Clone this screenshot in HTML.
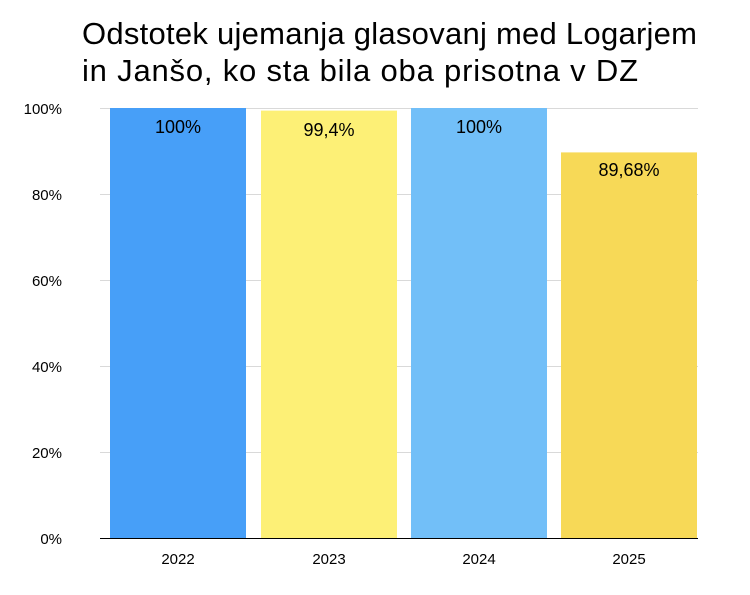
<!DOCTYPE html>
<html><head><meta charset="utf-8"><style>
body{margin:0;background:#fff;font-family:"Liberation Sans",Arial,sans-serif;}
</style></head><body>
<svg width="750" height="590" xmlns="http://www.w3.org/2000/svg" font-family="Liberation Sans, Arial, sans-serif">
<rect width="750" height="590" fill="#fff"/>
<text x="82" y="44" font-size="31" fill="#000" textLength="615">Odstotek ujemanja glasovanj med Logarjem</text>
<text x="82" y="81" font-size="31" fill="#000" textLength="556">in Janšo, ko sta bila oba prisotna v DZ</text>
<g stroke="#d9d9d9" stroke-width="1">
<line x1="100" x2="698" y1="108.5" y2="108.5"/>
<line x1="100" x2="698" y1="194.5" y2="194.5"/>
<line x1="100" x2="698" y1="280.5" y2="280.5"/>
<line x1="100" x2="698" y1="366.5" y2="366.5"/>
<line x1="100" x2="698" y1="452.5" y2="452.5"/>
</g>
<g font-size="15" fill="#000" text-anchor="end">
<text x="62" y="114">100%</text>
<text x="62" y="200">80%</text>
<text x="62" y="286">60%</text>
<text x="62" y="372">40%</text>
<text x="62" y="458">20%</text>
<text x="62" y="544">0%</text>
</g>
<rect x="110" y="108" width="136" height="430" fill="#479ff8"/>
<rect x="261" y="110.6" width="136" height="427.4" fill="#fdf076"/>
<rect x="411" y="108" width="136" height="430" fill="#72bff8"/>
<rect x="561" y="152.4" width="136" height="385.6" fill="#f7d957"/>
<line x1="100" x2="698" y1="538.5" y2="538.5" stroke="#000" stroke-width="1"/>
<g font-size="18" fill="#000" text-anchor="middle">
<text x="178" y="133">100%</text>
<text x="329" y="136">99,4%</text>
<text x="479" y="133">100%</text>
<text x="629" y="176">89,68%</text>
</g>
<g font-size="15" fill="#000" text-anchor="middle">
<text x="178" y="564">2022</text>
<text x="329" y="564">2023</text>
<text x="479" y="564">2024</text>
<text x="629" y="564">2025</text>
</g>
</svg>
</body></html>
